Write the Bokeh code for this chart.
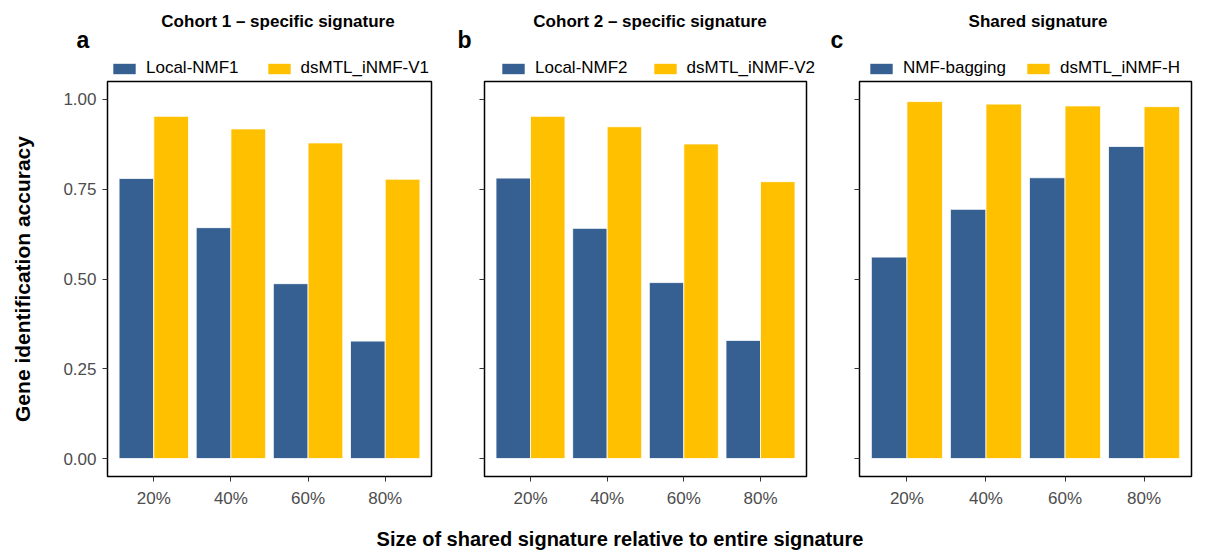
from bokeh.plotting import figure
from bokeh.models import (FactorRange, Range1d, FixedTicker, NumeralTickFormatter,
                          CustomJSTickFormatter, Label, Legend, LegendItem, Div,
                          ColumnDataSource)
from bokeh.core.properties import value
from bokeh.layouts import row, column
from bokeh.transform import dodge
from bokeh.embed import file_html
from bokeh.resources import INLINE

# ---------------- data ----------------
sizes = ["20%", "40%", "60%", "80%"]
yticks = [0.0, 0.25, 0.5, 0.75, 1.0]

panel_titles = ["Cohort 1 \u2013 specific signature", "Cohort 2 \u2013 specific signature", "Shared signature"]
panel_letters = ["a", "b", "c"]

series_a_names = ["Local-NMF1", "dsMTL_iNMF-V1"]
local_nmf1 = [0.780, 0.643, 0.487, 0.327]
dsmtl_v1 = [0.953, 0.918, 0.879, 0.778]

series_b_names = ["Local-NMF2", "dsMTL_iNMF-V2"]
local_nmf2 = [0.781, 0.641, 0.490, 0.329]
dsmtl_v2 = [0.953, 0.924, 0.876, 0.771]

series_c_names = ["NMF-bagging", "dsMTL_iNMF-H"]
nmf_bagging = [0.561, 0.694, 0.782, 0.869]
dsmtl_h = [0.994, 0.987, 0.982, 0.980]

y_title = "Gene identification accuracy"
x_title = "Size of shared signature relative to entire signature"

# ---------------- style ----------------
FONT = "Liberation Sans"
BLUE = "#376092"
YELLOW = "#FFC000"
TICK_GREY = "#4D4D4D"
HEAD_H = 77      # header strip (title, letter, legend)
PLOT_H = 445     # plotting figure


def make_header(width, src, title, letter, names, title_x, letter_x, legend_x, legend_spacing):
    h = figure(width=width, height=HEAD_H, x_range=Range1d(0, width), y_range=Range1d(0, HEAD_H),
               min_border=0, x_axis_location=None, y_axis_location=None,
               output_backend="svg", toolbar_location=None,
               background_fill_color="white", border_fill_color="white")
    h.outline_line_color = None
    h.grid.visible = False
    # hidden renderers that only supply the legend keys
    k1 = h.vbar(x=0, top="s1", width=0.0, source=src, fill_color=BLUE, line_color=None,
                visible=False)
    k2 = h.vbar(x=0, top="s2", width=0.0, source=src, fill_color=YELLOW, line_color=None,
                visible=False)
    leg = Legend(items=[LegendItem(label=value(names[0]), renderers=[k1]),
                        LegendItem(label=value(names[1]), renderers=[k2])],
                 orientation="horizontal", location=(legend_x, -1),
                 padding=0, margin=0, spacing=legend_spacing, label_standoff=8,
                 glyph_width=28, glyph_height=13,
                 label_text_font=FONT, label_text_font_size="17px",
                 label_text_color="black", border_line_color=None,
                 background_fill_alpha=0)
    h.add_layout(leg)
    h.add_layout(Label(x=title_x, y=HEAD_H - 20.7, text=title, text_font=FONT,
                       text_font_style="bold", text_font_size="17px", text_align="center",
                       text_baseline="middle", text_color="black"))
    h.add_layout(Label(x=letter_x, y=HEAD_H - 39, text=letter, text_font=FONT,
                       text_font_style="bold", text_font_size="23px", text_align="left",
                       text_baseline="middle", text_color="black"))
    return h


def make_panel(src, width, b_left, b_right, b_top, frame_h, show_ylabels):
    b_bottom = PLOT_H - b_top - frame_h
    p = figure(
        x_range=FactorRange(factors=sizes, range_padding=0.1, range_padding_units="absolute"),
        y_range=Range1d(-0.05, 1.05),
        width=width, height=PLOT_H,
        min_border_left=b_left, min_border_right=b_right,
        min_border_top=b_top, min_border_bottom=b_bottom,
        output_backend="svg", toolbar_location=None,
        background_fill_color="white", border_fill_color="white",
    )
    p.vbar(x=dodge("size", -0.225, range=p.x_range), top="s1", width=0.45, source=src,
           fill_color=BLUE, line_color="white", line_width=0.8)
    p.vbar(x=dodge("size", 0.225, range=p.x_range), top="s2", width=0.45, source=src,
           fill_color=YELLOW, line_color="white", line_width=0.8)

    p.xgrid.grid_line_color = None
    p.ygrid.grid_line_color = None
    p.outline_line_color = "black"
    p.outline_line_width = 1.5
    p.outline_line_alpha = 1.0

    p.yaxis.ticker = FixedTicker(ticks=yticks)
    if show_ylabels:
        p.yaxis.formatter = NumeralTickFormatter(format="0.00")
    else:
        p.yaxis.formatter = CustomJSTickFormatter(code="return ''")
    p.yaxis.axis_line_color = None
    p.yaxis.major_tick_out = 5
    p.yaxis.major_tick_in = 0
    p.yaxis.major_tick_line_color = "#333333"
    p.yaxis.minor_tick_line_color = None
    p.yaxis.major_label_standoff = 6
    p.yaxis.major_label_text_font = FONT
    p.yaxis.major_label_text_color = TICK_GREY
    p.yaxis.major_label_text_font_size = "17px"

    p.xaxis.axis_line_color = None
    p.xaxis.major_tick_out = 5
    p.xaxis.major_tick_in = 0
    p.xaxis.major_tick_line_color = "#333333"
    p.xaxis.major_label_standoff = 7
    p.xaxis.major_label_text_font = FONT
    p.xaxis.major_label_text_color = TICK_GREY
    p.xaxis.major_label_text_font_size = "17px"
    return p


src_a = ColumnDataSource(data=dict(size=sizes, s1=local_nmf1, s2=dsmtl_v1))
src_b = ColumnDataSource(data=dict(size=sizes, s1=local_nmf2, s2=dsmtl_v2))
src_c = ColumnDataSource(data=dict(size=sizes, s1=nmf_bagging, s2=dsmtl_h))

ha = make_header(452, src_a, panel_titles[0], panel_letters[0], series_a_names,
                 title_x=277.5, letter_x=76, legend_x=110, legend_spacing=26)
hb = make_header(377, src_b, panel_titles[1], panel_letters[1], series_b_names,
                 title_x=197.5, letter_x=5, legend_x=47, legend_spacing=23)
hc = make_header(371, src_c, panel_titles[2], panel_letters[2], series_c_names,
                 title_x=208.5, letter_x=1, legend_x=38, legend_spacing=18)

pa = make_panel(src_a, width=452, b_left=107, b_right=21, b_top=2, frame_h=397,
                show_ylabels=True)
pb = make_panel(src_b, width=377, b_left=32, b_right=23, b_top=2, frame_h=397,
                show_ylabels=False)
pc = make_panel(src_c, width=371, b_left=30, b_right=9, b_top=4, frame_h=396,
                show_ylabels=False)

# shared y title on panel a's axis
pa.yaxis.axis_label = y_title
pa.yaxis.axis_label_standoff = 26
pa.yaxis.axis_label_text_font = FONT
pa.yaxis.axis_label_text_font_style = "bold"
pa.yaxis.axis_label_text_font_size = "21px"
pa.yaxis.axis_label_text_color = "black"

xdiv = Div(text=x_title, width=1160, height=20, margin=(7, 0, 0, 40),
           styles={"font-family": "Liberation Sans, Arial, sans-serif", "font-size": "20px",
                   "font-weight": "bold", "text-align": "center", "line-height": "20px",
                   "color": "black"})

layout = column(row(ha, hb, hc), row(pa, pb, pc), xdiv)

open("out.html", "w").write(file_html(layout, INLINE))
